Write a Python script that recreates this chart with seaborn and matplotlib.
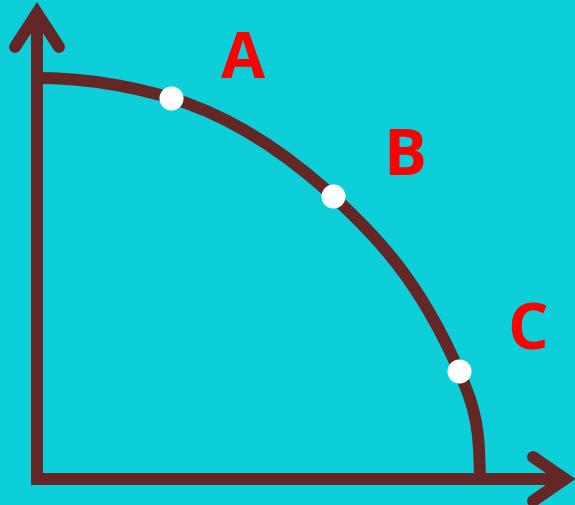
import matplotlib
matplotlib.use("Agg")
import matplotlib.pyplot as plt
import seaborn as sns
import pandas as pd

# Curve (production possibility frontier)
curve_x = [0, 20, 40, 60, 80, 100, 120, 134, 150, 170, 190, 210, 230, 250, 270,
           283, 296, 304, 312, 320, 328, 336, 344, 352, 360, 368, 376, 384, 392,
           400, 408, 416, 422, 427, 432, 436, 439, 441, 442, 442.6, 443]
curve_y = [401, 400.6, 399.2, 397, 393.8, 389.8, 384.9, 381, 375.7, 367.8, 358.3,
           347.3, 334.9, 320.9, 305.4, 294.5, 283, 275.4, 267.7, 259.8, 251.7,
           243.2, 234.3, 224.9, 215, 204.3, 192.8, 180.6, 167.3, 153.1, 137.8,
           121.2, 108, 96, 83, 70, 57, 43, 30, 15, 0]

# Marked points and their labels
point_labels = ["A", "B", "C"]
point_x = [134, 296, 422]
point_y = [381, 283, 108]

BG = "#0DCFD9"
LINE = "#652626"
RED = "#FF0000"

sns.set_theme(style="white")
plt.rcParams["font.family"] = ["Open Sans", "DejaVu Sans"]

fig = plt.figure(figsize=(5.75, 5.06), dpi=100)
fig.patch.set_facecolor(BG)
ax = fig.add_axes([0, 0, 1, 1])
ax.set_facecolor(BG)
ax.axis("off")

lw = 8.6
# axes with arrows
ax.plot([0, 0], [-6, 465], color=LINE, lw=lw, solid_capstyle="butt")
ax.plot([-22, 0, 22], [432, 466, 432], color=LINE, lw=lw,
        solid_capstyle="round", solid_joinstyle="miter")
ax.plot([-4, 528], [0, 0], color=LINE, lw=lw, solid_capstyle="butt")
ax.plot([496, 528, 496], [22, 0, -22], color=LINE, lw=lw,
        solid_capstyle="round", solid_joinstyle="miter")

df_curve = pd.DataFrame({"x": curve_x, "y": curve_y})
sns.lineplot(data=df_curve, x="x", y="y", sort=False, ax=ax, color=LINE,
             lw=8.6, solid_capstyle="butt", solid_joinstyle="round")

df_pts = pd.DataFrame({"x": point_x, "y": point_y, "label": point_labels})
sns.scatterplot(data=df_pts, x="x", y="y", ax=ax, color="white", s=300,
                linewidth=0, zorder=5, legend=False)

label_offsets = {"A": (72, 21), "B": (72, 22), "C": (69, 23)}
for lab, x, y in zip(point_labels, point_x, point_y):
    dx, dy = label_offsets[lab]
    ax.text(x + dx, y + dy, lab, color=RED, fontsize=46, fontweight="bold",
            ha="center", va="baseline", family=["Open Sans", "DejaVu Sans"])

ax.set_xlim(-37, 538)
ax.set_ylim(-26, 480)
ax.axis("off")
fig.savefig("out.png", dpi=100, facecolor=BG)
